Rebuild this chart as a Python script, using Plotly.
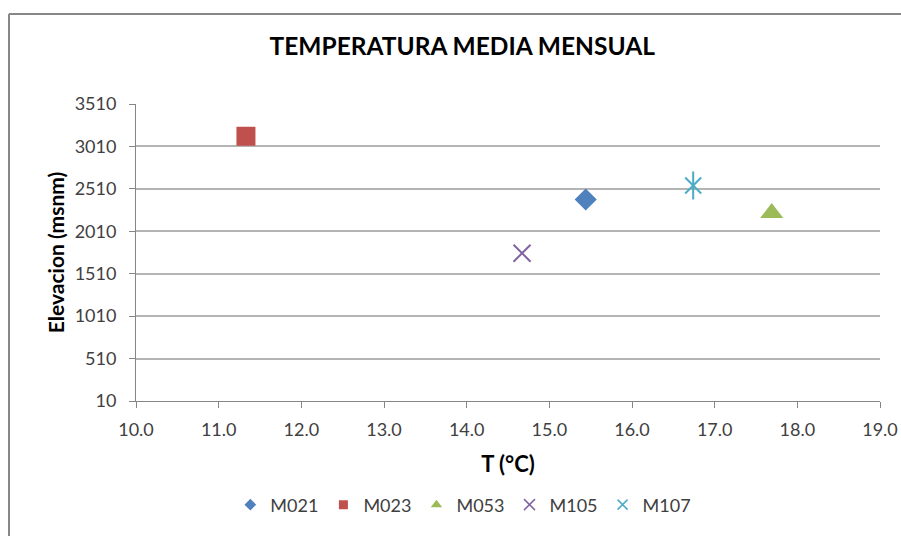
import plotly.graph_objects as go

# Station data: mean monthly temperature vs elevation
stations = ["M021", "M023", "M053", "M105", "M107"]
temperature = [15.44, 11.33, 17.69, 14.67, 16.74]
elevation = [2385, 3130, 2225, 1752, 2550]

colors = ["#4F81BD", "#C0504D", "#9BBB59", "#8064A2", "#4BACC6"]

FONT = "Lato"
AXIS_GREY = "#868686"
GRID_GREY = "#B4B4B4"

fig = go.Figure()

styles = {
    "M021": dict(symbol="diamond", size=17, lw=0, legend_size=9),
    "M023": dict(symbol="square", size=19, lw=0, legend_size=9),
    "M053": dict(symbol="triangle-up", size=20, lw=0, legend_size=10),
    "M105": dict(symbol="x-thin-open", size=17, lw=2, legend_size=11),
    "M107": dict(symbol="x-thin-open", size=16, lw=2, legend_size=10),
}

for name, t, e, c in zip(stations, temperature, elevation, colors):
    st = styles[name]
    fig.add_trace(go.Scatter(
        x=[t], y=[e], mode="markers", name=name, legendgroup=name,
        showlegend=False,
        marker=dict(symbol=st["symbol"], size=st["size"], color=c,
                    line=dict(color=c, width=st["lw"])),
    ))
    if name == "M107":
        # vertical stroke completes the six-armed star marker
        fig.add_trace(go.Scatter(
            x=[t], y=[e], mode="markers", name=name, legendgroup=name,
            showlegend=False,
            marker=dict(symbol="line-ns-open", size=20, color=c,
                        line=dict(color=c, width=2)),
        ))
    # small legend swatch for the station
    fig.add_trace(go.Scatter(
        x=[None], y=[None], mode="markers", name=name, legendgroup=name,
        marker=dict(symbol=st["symbol"], size=st["legend_size"], color=c,
                    line=dict(color=c, width=1.5 if st["lw"] else 0)),
    ))

fig.update_layout(
    width=901, height=536,
    margin=dict(l=136, r=21, t=104, b=132),
    paper_bgcolor="white", plot_bgcolor="white",
    font=dict(family=FONT, color="#404040"),
    title=dict(text="<b>TEMPERATURA MEDIA MENSUAL</b>", x=0.513, xanchor="center",
               y=1 - 46 / 536, yanchor="middle",
               font=dict(family=FONT, size=24.5, color="#000000")),
    showlegend=True,
    legend=dict(orientation="h", x=0.44, xanchor="center", y=-0.35, yanchor="middle",
                font=dict(family=FONT, size=18, color="#404040"),
                itemsizing="trace", itemwidth=30, tracegroupgap=0),
    xaxis=dict(
        range=[10, 19], tick0=10, dtick=1, tickformat=".1f",
        automargin=False,
        showgrid=False, zeroline=False,
        showline=True, linecolor=AXIS_GREY, linewidth=1,
        ticks="outside", ticklen=6, tickcolor=AXIS_GREY,
        ticklabelstandoff=6,
        tickfont=dict(family=FONT, size=18, color="#404040"),
        title=dict(text="<b>T (°C)</b>", standoff=18,
                   font=dict(family=FONT, size=22, color="#000000")),
    ),
    yaxis=dict(
        range=[10, 3510], tick0=10, dtick=500,
        automargin=False,
        showgrid=True, gridcolor=GRID_GREY, gridwidth=1.5, zeroline=False,
        showline=True, linecolor=AXIS_GREY, linewidth=1,
        ticks="outside", ticklen=6, tickcolor=AXIS_GREY,
        ticklabelstandoff=9,
        tickfont=dict(family=FONT, size=18, color="#404040"),
        title=dict(text="<b>Elevacion (msnm)</b>", standoff=4,
                   font=dict(family=FONT, size=21, color="#000000")),
    ),
)

# Chart-area frame (left and top edges)
frame = dict(color="#878787", width=2)
fig.add_shape(type="line", xref="paper", yref="paper",
              x0=(9 - 136) / 744, x1=(9 - 136) / 744, y0=-0.5, y1=(404 - 13) / 300,
              line=frame)
fig.add_shape(type="line", xref="paper", yref="paper",
              x0=(9 - 136) / 744, x1=1.05, y0=(404 - 13) / 300, y1=(404 - 13) / 300,
              line=frame)

fig.write_html("out.html")
